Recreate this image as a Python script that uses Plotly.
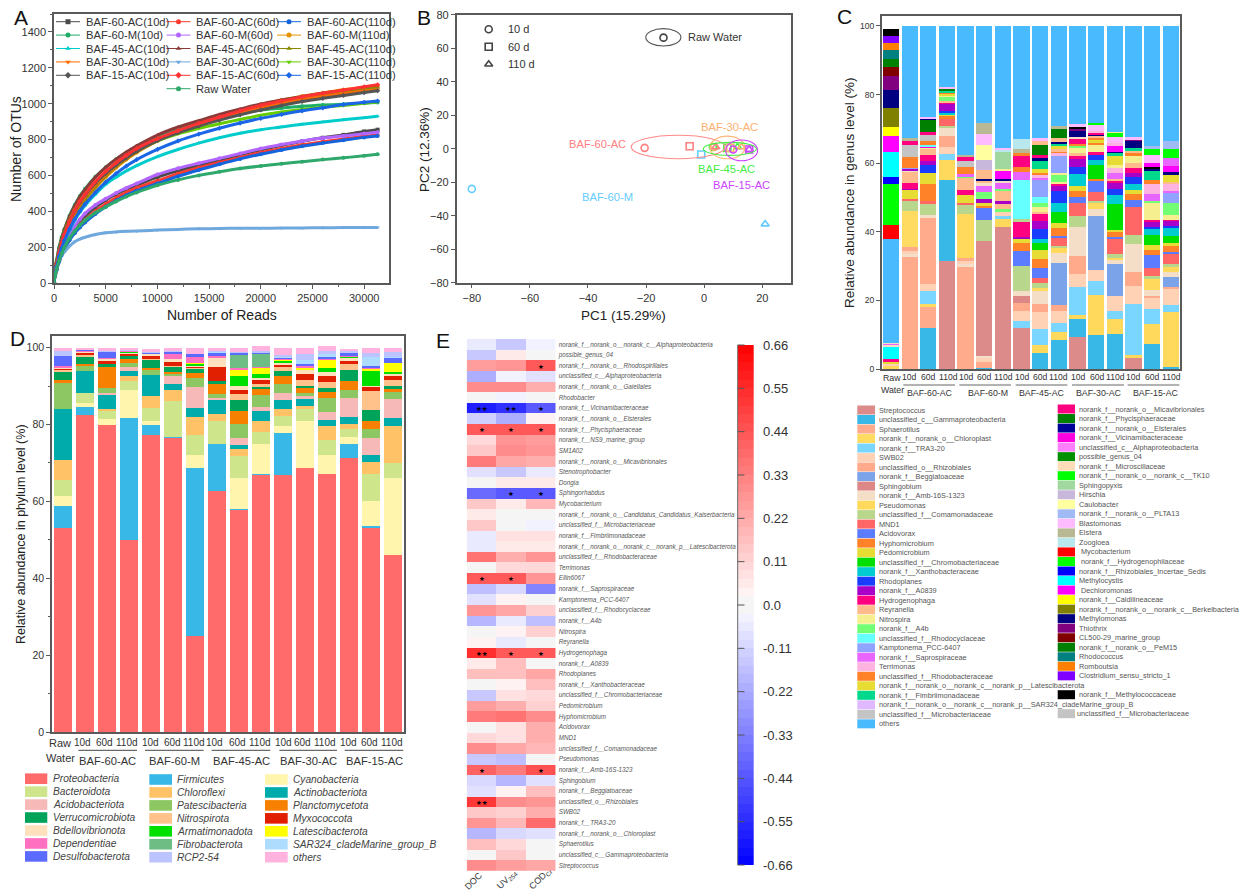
import plotly.graph_objects as go

W, H = 1241, 892
FONT = "Liberation Sans, Arial, sans-serif"
GREY = "#333333"
FRAME = "#5a5a5a"

# ---------- Panel A: rarefaction curves ----------
READS = [0,100,250,500,750,1000,1500,2000,2500,3000,4000,5000,6000,7000,8000,10000,12000,14000,16000,18000,20000,22000,24000,26000,28000,30000,31300]
OTU_60AC_10 = [0,42,80,130,172,208,262,305,342,372,422,462,495,522,545,590,625,655,685,715,742,768,790,810,826,845,855]
OTU_60M_10 = [0,70,125,200,255,300,375,435,485,525,592,645,690,728,762,818,860,893,920,945,965,975,985,992,997,1003,1006]
OTU_45AC_10 = [0,48,90,145,192,230,295,350,395,432,495,550,590,625,655,705,745,780,810,835,855,870,885,898,910,922,930]
OTU_30AC_10 = [0,55,105,170,222,265,335,392,440,480,548,606,655,697,735,795,842,880,915,947,975,1000,1022,1040,1056,1070,1078]
OTU_15AC_10 = [0,58,110,178,232,275,345,402,450,490,558,612,658,698,735,794,838,875,908,938,965,990,1012,1030,1046,1062,1072]
OTU_60AC_60 = [0,40,76,125,165,200,250,290,325,352,400,440,475,505,530,570,610,643,672,700,728,750,770,788,803,818,825]
OTU_60M_60 = [0,45,85,138,180,218,272,318,355,388,435,470,502,530,555,605,640,668,695,722,750,772,792,808,820,833,840]
OTU_45AC_60 = [0,65,120,195,250,295,370,430,480,520,590,645,690,730,765,825,870,905,940,970,998,1020,1040,1058,1072,1085,1092]
OTU_30AC_60 = [0,60,100,140,160,172,205,230,245,255,270,280,285,288,290,295,299,302,304,305,305,306,307,308,309,310,310]
OTU_15AC_60 = [0,55,105,170,225,270,345,405,455,495,565,622,670,712,750,805,850,890,925,960,990,1015,1038,1058,1076,1094,1105]
OTU_60AC_110 = [0,38,72,118,156,188,238,278,310,338,385,425,460,490,515,555,595,630,662,692,718,742,762,780,796,812,820]
OTU_60M_110 = [0,50,95,155,205,245,315,372,420,460,530,590,642,688,728,792,845,888,927,962,994,1020,1042,1060,1078,1090,1097]
OTU_45AC_110 = [0,52,98,160,210,250,320,378,428,468,538,598,650,694,732,792,845,885,922,955,985,1010,1032,1052,1068,1082,1090]
OTU_30AC_110 = [0,60,112,182,235,280,350,408,455,495,560,618,665,705,738,792,832,862,888,912,935,953,968,980,990,1002,1010]
OTU_15AC_110 = [0,48,90,148,195,235,300,355,400,440,505,562,610,652,688,745,792,830,863,892,918,940,960,977,995,1008,1015]
OTU_RAW = [0,40,78,125,165,198,250,290,322,350,392,424,455,482,505,545,575,600,620,638,652,665,676,688,698,710,718]

CURVES = [
    ("BAF-60-AC(10d)", OTU_60AC_10, "#4a4a4a", "square"),
    ("BAF-60-AC(60d)", OTU_60AC_60, "#ff3b30", "circle"),
    ("BAF-60-AC(110d)", OTU_60AC_110, "#1464dc", "circle"),
    ("BAF-60-M(10d)", OTU_60M_10, "#1fae68", "circle"),
    ("BAF-60-M(60d)", OTU_60M_60, "#b266ff", "circle"),
    ("BAF-60-M(110d)", OTU_60M_110, "#e69500", "circle"),
    ("BAF-45-AC(10d)", OTU_45AC_10, "#00cccc", "triangle-up"),
    ("BAF-45-AC(60d)", OTU_45AC_60, "#8b3a3a", "triangle-up"),
    ("BAF-45-AC(110d)", OTU_45AC_110, "#8a8a00", "triangle-up"),
    ("BAF-30-AC(10d)", OTU_30AC_10, "#ff6a00", "triangle-down"),
    ("BAF-30-AC(60d)", OTU_30AC_60, "#6fa8dc", "triangle-down"),
    ("BAF-30-AC(110d)", OTU_30AC_110, "#66cc00", "triangle-down"),
    ("BAF-15-AC(10d)", OTU_15AC_10, "#555555", "diamond"),
    ("BAF-15-AC(60d)", OTU_15AC_60, "#ff3333", "diamond"),
    ("BAF-15-AC(110d)", OTU_15AC_110, "#1a66e6", "diamond"),
    ("Raw Water", OTU_RAW, "#2ea86b", "circle"),
]

# ---------- Panel B: PCoA ----------
PC1_RAW, PC2_RAW = [-14], [66.3]
PC1_60AC, PC2_60AC = [-20.5,-5,4], [0.5,1.5,1]
PC1_60M, PC2_60M = [-80,-1,21], [-24,-3.5,-45]
PC1_45AC, PC2_45AC = [3,8,11.5], [1,0.5,1]
PC1_30AC, PC2_30AC = [3.5,9,12.8], [1,0.5,1]
PC1_15AC, PC2_15AC = [10,15.5,15.5], [-0.5,-0.5,-0.5]
PCOA_SYMBOLS = ["circle-open","square-open","triangle-up-open"]
ELLIPSES = [  # x0, x1, y0, y1 in PC units
    (-20.1,-8,61.3,71.7,"#555555"),(-25.1,7.2,-6,8,"#ff8a8a"),(2,14,-6,7.5,"#ffb878"),
    (-0.3,18,-4,3.8,"#44ee44"),(7.4,18.4,-7.2,5.2,"#cc44ff"),
]

# ---------- Panel C: genera ----------
GENERA = ["Streptococcus","unclassified_c__Gammaproteobacteria","Sphaerotilus","norank_f__norank_o__Chloroplast","norank_f__TRA3-20","SWB02","unclassified_o__Rhizobiales","norank_f__Beggiatoaceae","Sphingobium","norank_f__Amb-16S-1323","Pseudomonas","unclassified_f__Comamonadaceae","MND1","Acidovorax","Hyphomicrobium","Pedomicrobium","unclassified_f__Chromobacteriaceae","norank_f__Xanthobacteraceae","Rhodoplanes","norank_f__A0839","Hydrogenophaga","Reyranella","Nitrospira","norank_f__A4b","unclassified_f__Rhodocyclaceae","Kamptonema_PCC-6407","norank_f__Saprospiraceae","Terrimonas","unclassified_f__Rhodobacteraceae","norank_f__norank_o__norank_c__norank_p__Latescibacterota","norank_f__Fimbriimonadaceae","norank_f__norank_o__norank_c__norank_p__SAR324_cladeMarine_group_B","unclassified_f__Microbacteriaceae","others",
"norank_f__norank_o__Micavibrionales","norank_f__Phycisphaeraceae","norank_f__norank_o__Elsterales","norank_f__Vicinamibacteraceae","unclassified_c__Alphaproteobacteria","possible_genus_04","norank_f__Microscillaceae","norank_f__norank_o__norank_c__TK10","Sphingopyxis","Hirschia","Caulobacter","norank_f__norank_o__PLTA13","Blastomonas","Elstera","Zoogloea","Mycobacterium","norank_f__Hydrogenophilaceae","norank_f__Rhizobiales_Incertae_Sedis","Methylocystis","Dechloromonas","norank_f__Caldilineaceae","norank_f__norank_o__norank_c__Berkelbacteria","Methylomonas","Thiothrix","CL500-29_marine_group","norank_f__norank_o__PeM15","Rhodococcus","Romboutsia","Clostridium_sensu_stricto_1","norank_f__Methylococcaceae","unclassified_f__Microbacteriaceae"]
GENUS_COLORS = ["#DC8A8A","#38B8E6","#FFAB8C","#FFDB61","#7AD6FF","#FFD2B5","#FFAA8A","#7BA3EA","#DE8787","#F5DEC8","#FFD95C","#B8D78C","#FF6666","#5C7CFF","#FF8229","#E6DC33","#00DF00","#00CCD2","#1A3CFF","#A800C8","#FF0080","#FFBB8C","#F5EF8F","#73FF73","#66FFFF","#8FA3FF","#E866FF","#FFB3E0","#FF8229","#E6DC33","#00D98C","#E0B8FF","#C4C4C4","#4ABAFF",
"#FF0080","#008000","#000099","#FF00E0","#FF80FF","#009000","#FFDDB8","#00FF00","#A0D8A0","#C8B8DC","#FFFFA0","#A0BAF5","#FFBBFF","#B8B894","#B8E8EE","#FF0000","#00FF00","#0000FF","#00FFFF","#FF00FF","#FFFF00","#808000","#000080","#800080","#800000","#008000","#008080","#FF8000","#8000FF","#000000","#C4C4C4"]

C_RAW = [(10,1),(5,1.5),(15,2),(20,2.8),(52,6.5),(9,7),(26,7.3),(9,7.7),(33,38),(49,42),(50,54),(51,56),(52,63.3),(53,68),(54,70.5),(55,76),(56,81.3),(57,85.3),(58,88),(59,90.5),(60,93),(61,95),(62,97),(63,99)]
C_60AC_10 = [(2,32.7),(9,33.5),(5,34.3),(6,35.5),(3,46),(11,49),(12,49.5),(15,52.2),(19,52.6),(20,54.3),(21,57.5),(9,58),(19,58.3),(25,58.7),(14,61.7),(32,65.3),(20,66.5),(47,67.3),(33,100)]
C_60AC_60 = [(1,12),(2,18),(3,19),(4,22.7),(5,24.7),(2,44),(9,45),(11,48),(12,49),(14,54),(15,57),(18,59.5),(19,60.5),(20,62.5),(21,64.2),(22,64.6),(37,65),(24,65.3),(14,66.5),(32,68.3),(20,69),(35,72.7),(56,73),(46,73.5),(33,100)]
C_60AC_110 = [(0,31.5),(1,55),(10,61),(4,62.8),(5,64.7),(6,68),(9,70.3),(11,70.8),(12,73),(14,73.8),(15,74),(17,74.6),(18,75.3),(19,77.5),(20,77.8),(21,78),(23,79.3),(22,79.8),(15,80.3),(14,80.6),(30,81.2),(59,81.5),(46,82.2),(33,100)]
C_60M_10 = [(2,29.8),(9,30.7),(5,31.5),(6,32.3),(10,45.3),(11,48),(12,48.5),(15,50.8),(20,52.3),(21,55.7),(23,56.2),(26,56.7),(14,59),(32,60.7),(20,62),(47,62.3),(33,100)]
C_60M_60 = [(1,0.4),(2,2),(5,3.2),(9,3.8),(0,37.3),(11,43.3),(13,46.8),(14,47.5),(15,48.5),(19,49.5),(23,51.5),(26,53.3),(9,54.5),(21,55),(56,55.5),(21,58),(43,61),(44,65.2),(46,68.6),(47,71.7),(33,100)]
C_60M_110 = [(0,41.4),(10,44),(4,44.5),(5,46),(23,46.5),(21,48),(19,49),(21,52),(23,52.5),(26,54.3),(9,55),(56,55.5),(53,57.7),(22,58.3),(42,63.5),(48,64),(46,64.5),(33,100)]
C_45AC_10 = [(0,12),(4,14),(5,16.8),(6,19.3),(8,21.2),(9,22.8),(11,30),(13,34.5),(14,36.7),(15,38),(19,38.5),(20,42.9),(11,43.6),(24,55),(26,57.4),(14,59),(20,62),(14,63),(47,64),(48,67),(33,100)]
C_45AC_60 = [(1,4.8),(10,7),(4,11.8),(5,16.7),(6,19),(9,22.8),(3,23.5),(11,25),(12,26.5),(13,29.5),(14,32),(15,34.8),(16,36.8),(17,38),(18,40.7),(19,43.2),(20,45.3),(21,45.8),(22,47.2),(23,48.3),(24,50),(25,55),(26,55.8),(27,56.8),(14,57),(15,58.3),(30,60.5),(56,61.5),(20,62.3),(35,65.4),(21,66.5),(46,67.3),(33,100)]
C_45AC_110 = [(1,8.5),(10,10.7),(4,13.3),(5,17),(6,18.7),(7,31),(9,33.8),(10,35.2),(11,36),(12,38.3),(13,38.8),(14,41),(15,42.5),(16,45.7),(17,48.5),(18,51.8),(19,53.5),(20,54),(22,54.5),(23,56.7),(22,57),(25,62),(27,63),(14,63.3),(21,64),(15,65),(30,65.7),(56,66.2),(21,67.3),(35,70),(47,70.7),(33,100)]
C_30AC_10 = [(0,9.3),(1,14.5),(10,15.8),(4,24),(5,27.8),(6,32.8),(9,41.5),(11,44.5),(12,48.5),(13,50.2),(14,52),(15,53.3),(17,56.7),(18,59),(19,61.3),(20,62),(21,63),(22,64.3),(23,65),(14,65.7),(20,67.2),(9,67.5),(56,69.3),(57,70),(63,70.5),(46,71.5),(33,100)]
C_30AC_60 = [(1,10),(10,21.5),(4,25.7),(5,29),(7,44.7),(9,46.5),(10,48.5),(11,49),(12,51.7),(13,55),(14,55.5),(16,59.4),(17,61),(18,62.5),(20,63.2),(22,65.2),(14,66),(15,67),(14,67.5),(21,68),(56,68.5),(20,69),(27,69.5),(46,71.3),(41,71.7),(33,100)]
C_30AC_110 = [(1,10.2),(10,14.7),(4,17),(5,21.3),(7,30.6),(9,31.8),(10,32.5),(11,33.5),(12,38),(13,38.5),(14,40),(15,40.4),(16,48),(17,50.6),(18,52.5),(19,54.5),(20,55),(21,55.5),(26,57),(27,58.5),(22,59.5),(15,62),(30,63),(56,63.3),(53,65),(27,66),(46,67.5),(41,69),(22,69.2),(33,100)]
C_15AC_10 = [(0,3.2),(10,4),(4,19),(5,24.3),(6,28.3),(9,36.3),(11,39),(12,47.2),(13,49.2),(14,51),(15,52.2),(17,54),(18,56),(19,57),(20,58.6),(21,60),(22,62),(14,63),(21,63.5),(30,64.3),(56,66.6),(57,67),(46,67.5),(33,100)]
C_15AC_60 = [(1,7.4),(10,13),(4,17.5),(5,20.7),(6,21.3),(9,23),(10,26.3),(11,27.2),(12,29.5),(13,33.2),(14,34.7),(15,36.2),(16,39),(17,40.7),(18,41.5),(19,43.1),(20,43.3),(22,48.5),(23,49),(26,51),(27,54),(14,55),(30,58),(56,58.5),(63,58.8),(53,60),(46,62.5),(41,64.2),(45,65),(33,100)]
C_15AC_110 = [(1,0.5),(10,16.5),(4,18.6),(5,23.4),(6,23.8),(7,26.8),(9,28.2),(10,29.7),(11,30.5),(12,33.8),(13,34.2),(14,35.8),(15,36.8),(16,38.8),(17,41),(18,41.6),(19,43.2),(20,43.4),(22,45),(23,48.4),(25,51.3),(26,52),(27,54),(21,54.6),(15,56.8),(56,57.3),(53,59.3),(26,61.6),(41,64),(45,66.4),(33,100)]
C_SAMPLES = [C_RAW,C_60AC_10,C_60AC_60,C_60AC_110,C_60M_10,C_60M_60,C_60M_110,C_45AC_10,C_45AC_60,C_45AC_110,C_30AC_10,C_30AC_60,C_30AC_110,C_15AC_10,C_15AC_60,C_15AC_110]

# ---------- Panel D: phyla (stacking order) ----------
PHYLA = ["Proteobacteria","Firmicutes","Cyanobacteria","Bacteroidota","Chloroflexi","Actinobacteriota","Acidobacteriota","Patescibacteria","Planctomycetota","Verrucomicrobiota","Nitrospirota","Myxococcota","Bdellovibrionota","Armatimonadota","Latescibacterota","Dependentiae","Fibrobacterota","Desulfobacterota","SAR324_cladeMarine_group_B","RCP2-54","others"]
PHYLA_COLORS = ["#FF6B6B","#38B8E6","#FFF5AD","#CFE58C","#FFC266","#00ABAB","#F7B8B8","#8CC764","#F78000","#00A35A","#FFC28A","#E02000","#FFE0BD","#00E000","#FFFF00","#FF70C0","#6DBD85","#5C6BFF","#ADDCFF","#BCC4FF","#FFB3DE"]
D_RAW = [53,5.7,2.8,4.1,5.1,13.3,0,7,.5,2.2,.5,.3,.4,0,0,.2,0,2.8,0,1.2,.9]
D_60AC_10 = [82.4,2.2,1.1,2.4,0,5.9,0,1.1,.7,1.9,.3,.7,.3,0,0,.2,0,.2,0,.1,.4]
D_60AC_60 = [79.8,0,1.5,2.1,.6,3.7,.5,1.4,5.3,.8,0,.7,.8,0,0,.1,0,1.6,0,.3,.8]
D_60AC_110 = [50,31.8,7.2,2.2,1.4,1.3,1,1.2,1,.9,0,.4,.2,.4,0,.2,0,.1,0,.1,.5]
D_60M_10 = [77.2,2.6,1,3.6,2.9,5.5,0,1.3,.7,2,.2,.9,.5,0,0,.1,0,.2,0,.1,.7]
D_60M_60 = [76.5,.3,0,9.2,3,1.5,2.1,.7,.3,1.6,.1,.9,.8,0,0,1.4,0,.5,0,.2,.9]
D_60M_110 = [25,43.6,3.4,5.2,4.8,2.4,5.3,2.3,1.5,1.1,.1,.3,.2,.7,.2,1.5,0,.7,0,0,1.6]
D_45AC_10 = [62.6,12.4,0,6,1.8,3.8,.4,1,2.4,1,0,3.6,2.5,0,0,.3,0,.9,.2,.1,1]
D_45AC_60 = [57.8,.3,7.9,5.8,1.9,1,1.7,3.6,3.4,2.9,1.6,1.1,1,2.7,1.6,.4,3.5,.4,0,.2,1.2]
D_45AC_110 = [67,.2,7.8,3,2.8,2.6,1.2,3.1,1.4,.9,.5,1,.7,1,1.5,.2,3.5,.3,0,.4,1.2]
D_30AC_10 = [66.8,10.9,2,2.6,1.7,2.3,1.9,2.4,2,1.2,1.2,.6,.5,.6,.3,.2,0,.3,.3,.3,1.7]
D_30AC_60 = [68.6,0,12.2,3.2,.7,2,.8,.8,1.1,.6,1.5,1.5,1.2,.2,.4,.5,0,.3,1.2,1.5,1.5]
D_30AC_110 = [67.2,0,4.8,4,3.6,1.6,2,3.6,1.6,1.1,1.5,1.6,1,1,2.2,.4,0,.3,.8,.9,1.1]
D_15AC_10 = [71.2,3.8,1.7,2.1,1.2,2,5,2,2.2,3,1.5,.8,.8,.3,.1,.2,0,.8,0,.3,.7]
D_15AC_60 = [53,.6,6.4,7.2,3,1.8,4.6,2.2,2,2.9,5.1,1.1,.2,3.8,.7,.2,0,.4,2.4,.9,1.5]
D_15AC_110 = [46,0,20,4,9.7,2.1,4.9,1.8,.8,.7,1.5,1.3,.2,.6,2.4,.1,0,1.3,.2,1.2,1.2]
D_SAMPLES = [D_RAW,D_60AC_10,D_60AC_60,D_60AC_110,D_60M_10,D_60M_60,D_60M_110,D_45AC_10,D_45AC_60,D_45AC_110,D_30AC_10,D_30AC_60,D_30AC_110,D_15AC_10,D_15AC_60,D_15AC_110]
D_LEGEND_1 = ["Proteobacteria","Bacteroidota","Acidobacteriota","Verrucomicrobiota","Bdellovibrionota","Dependentiae","Desulfobacterota"]
D_LEGEND_2 = ["Firmicutes","Chloroflexi","Patescibacteria","Nitrospirota","Armatimonadota","Fibrobacterota","RCP2-54"]
D_LEGEND_3 = ["Cyanobacteria","Actinobacteriota","Planctomycetota","Myxococcota","Latescibacterota","SAR324_cladeMarine_group_B","others"]

DAYS = ["10d","60d","110d"]
GROUPS = ["BAF-60-AC","BAF-60-M","BAF-45-AC","BAF-30-AC","BAF-15-AC"]

# ---------- Panel E: correlation heat map ----------
HEAT_TAXA = ["norank_f__norank_o__norank_c__Alphaproteobacteria","possible_genus_04","norank_f__norank_o__Rhodospirillales","unclassified_c__Alphaproteobacteria","norank_f__norank_o__Gaiellales","Rhodobacter","norank_f__Vicinamibacteraceae","norank_f__norank_o__Elsterales","norank_f__Phycisphaeraceae","norank_f__NS9_marine_group","SM1A02","norank_f__norank_o__Micavibrionales","Stenotrophobacter","Dongia","Sphingorhabdus","Mycobacterium","norank_f__norank_o__Candidatus_Candidatus_Kaiserbacteria","unclassified_f__Microbacteriaceae","norank_f__Fimbriimonadaceae","norank_f__norank_o__norank_c__norank_p__Latescibacterota","unclassified_f__Rhodobacteraceae","Terrimonas","Ellin6067","norank_f__Saprospiraceae","Kamptonema_PCC-6407","unclassified_f__Rhodocyclaceae","norank_f__A4b","Nitrospira","Reyranella","Hydrogenophaga","norank_f__A0839","Rhodoplanes","norank_f__Xanthobacteraceae","unclassified_f__Chromobacteriaceae","Pedomicrobium","Hyphomicrobium","Acidovorax","MND1","unclassified_f__Comamonadaceae","Pseudomonas","norank_f__Amb-16S-1323","Sphingobium","norank_f__Beggiatoaceae","unclassified_o__Rhizobiales","SWB02","norank_f__TRA3-20","norank_f__norank_o__Chloroplast","Sphaerotilus","unclassified_c__Gammaproteobacteria","Streptococcus"]
HEAT_VARS = ["DOC","UV<sub>254</sub>","COD<sub>Cr</sub>"]
HEAT_DOC = [-.06,-.15,.25,-.20,.30,0,-.58,-.13,.43,.10,.15,.33,-.07,0,-.38,.15,.06,.14,-.05,-.06,.37,.01,.44,-.17,-.08,.27,-.18,0,.03,.53,.05,.17,.01,-.14,.25,.34,.01,.10,.30,-.14,.40,-.09,-.08,.52,.15,.27,-.18,.16,.02,.30]
HEAT_UV = [-.14,.05,.27,-.04,.30,-.04,-.55,-.20,.44,.28,.30,.22,-.14,.05,-.44,.06,0,.01,.07,.05,.21,.10,.42,-.10,.03,.24,-.05,.03,-.06,.42,.16,.17,.04,.08,.20,.37,.07,.07,.22,-.16,.33,-.19,.04,.30,.12,.19,-.09,.09,.14,.25]
HEAT_COD = [-.04,0,.42,-.08,.20,-.02,-.42,.03,.44,.26,.27,.20,-.06,.05,-.43,.18,0,-.04,.07,.05,.28,.10,.28,-.32,0,.12,-.16,.13,0,.43,0,.22,.17,.09,.13,.30,.20,.20,.18,.02,.45,-.07,.16,.28,.20,.38,-.07,.02,0,.22]
STAR_ROWS = ["norank_f__norank_o__Rhodospirillales","norank_f__Vicinamibacteraceae","norank_f__Vicinamibacteraceae","norank_f__Vicinamibacteraceae","norank_f__Phycisphaeraceae","norank_f__Phycisphaeraceae","norank_f__Phycisphaeraceae","Sphingorhabdus","Sphingorhabdus","Ellin6067","Ellin6067","Hydrogenophaga","Hydrogenophaga","Hydrogenophaga","norank_f__Amb-16S-1323","norank_f__Amb-16S-1323","unclassified_o__Rhizobiales"]
STAR_COLS = [2,0,1,2,0,1,2,1,2,0,1,0,1,2,0,2,0]
STAR_TEXT = ["★","★★","★★","★","★","★","★","★","★","★","★","★★","★","★","★","★","★★"]
CBAR_TICKS = [0.66,0.55,0.44,0.33,0.22,0.11,0.0,-0.11,-0.22,-0.33,-0.44,-0.55,-0.66]


def dx(l, r):
    return [l / W, r / W]


def dy(t, b):
    return [1 - b / H, 1 - t / H]


fig = go.Figure()
shapes, notes = [], []


def note(x, y, text, size=11, color=GREY, anchor="left", italic=False, family=FONT, angle=0):
    notes.append(dict(x=x, y=y, xref="x6", yref="y6", text=f"<i>{text}</i>" if italic else text,
                      showarrow=False, xanchor=anchor, yanchor="middle", textangle=angle,
                      font=dict(size=size, color=color, family=family)))


def rect(x0, x1, y0, y1, color):
    shapes.append(dict(type="rect", xref="x6", yref="y6", x0=x0, x1=x1, y0=y0, y1=y1,
                       fillcolor=color, line=dict(width=0), layer="above"))


def seg(x0, x1, y0, y1, color=FRAME, width=1):
    shapes.append(dict(type="line", xref="x6", yref="y6", x0=x0, x1=x1, y0=y0, y1=y1,
                       line=dict(color=color, width=width), layer="above"))


# Panel A traces
for name, vals, color, sym in CURVES:
    fig.add_trace(go.Scatter(x=READS, y=vals, name=name, mode="lines+markers", xaxis="x", yaxis="y",
                             line=dict(color=color, width=3, shape="spline"),
                             marker=dict(color=color, symbol=sym, size=4), showlegend=False))

# Panel A legend keys
for i, (name, vals, color, sym) in enumerate(CURVES):
    col, row = (1, 5) if name == "Raw Water" else (i % 3, i // 3)
    x0 = 56 + col * 110.5
    y0 = 21.7 + row * 13.4
    seg(x0, x0 + 24, y0, y0, color=color, width=1)
    fig.add_trace(go.Scatter(x=[x0 + 12], y=[y0], mode="markers", xaxis="x6", yaxis="y6", showlegend=False,
                             marker=dict(color=color, symbol=sym, size=5), hoverinfo="skip"))
    note(x0 + 27.5, y0, name, size=11.2)

# Panel B traces
PCOA = [("Raw Water", PC1_RAW, PC2_RAW, "#444444"), ("BAF-60-M", PC1_60M, PC2_60M, "#66ccff"),
        ("BAF-45-AC", PC1_45AC, PC2_45AC, "#44ee44"), ("BAF-30-AC", PC1_30AC, PC2_30AC, "#ffb070"),
        ("BAF-15-AC", PC1_15AC, PC2_15AC, "#cc44ff"), ("BAF-60-AC", PC1_60AC, PC2_60AC, "#ff8080")]
for name, xs, ys, color in PCOA:
    fig.add_trace(go.Scatter(x=xs, y=ys, name=name, mode="markers", xaxis="x2", yaxis="y2", showlegend=False,
                             marker=dict(symbol=PCOA_SYMBOLS[:len(xs)], size=7, color=color,
                                         line=dict(color=color, width=1.6))))
for x0, x1, y0, y1, color in ELLIPSES:
    shapes.append(dict(type="circle", xref="x2", yref="y2", x0=x0, x1=x1, y0=y0, y1=y1,
                       line=dict(color=color, width=1.1)))
for sym, yp, lab in zip(["circle-open", "square-open", "triangle-up-open"], [29.3, 46.7, 64.3], ["10 d", "60 d", "110 d"]):
    fig.add_trace(go.Scatter(x=[488.7], y=[yp], mode="markers", xaxis="x6", yaxis="y6", showlegend=False,
                             marker=dict(symbol=sym, size=7, color="#444444", line=dict(color="#444444", width=1.6)),
                             hoverinfo="skip"))
    note(506, yp, lab, size=11)
note(686, 36.7, "Raw Water", size=11)
note(566.7, 144.3, "BAF-60-AC", size=11.2, color="#ff8080")
note(699.3, 127, "BAF-30-AC", size=11.2, color="#ffb070")
note(695.7, 169.3, "BAF-45-AC", size=11.2, color="#44ee44")
note(710.7, 185, "BAF-15-AC", size=11.2, color="#cc44ff")
note(580, 196.7, "BAF-60-M", size=11.2, color="#66ccff")

# Panel C traces: k-th band of every sample forms one stacked layer
n_layers = max(len(s) for s in C_SAMPLES)
C_X = list(range(16))
for k in range(n_layers):
    heights, colors, labels = [], [], []
    for s in C_SAMPLES:
        if k < len(s):
            g, top = s[k]
            low = s[k - 1][1] if k else 0
            heights.append(round(top - low, 3))
            colors.append(GENUS_COLORS[g])
            labels.append(GENERA[g])
        else:
            heights.append(0)
            colors.append("#ffffff")
            labels.append("")
    fig.add_trace(go.Bar(x=C_X, y=heights, width=0.875, xaxis="x3", yaxis="y3",
                         marker=dict(color=colors, line=dict(width=0)), hovertext=labels, showlegend=False))

# Panel D traces
for i, name in enumerate(PHYLA):
    fig.add_trace(go.Bar(x=C_X, y=[s[i] for s in D_SAMPLES], width=0.8, name=name, xaxis="x4", yaxis="y4",
                         marker=dict(color=PHYLA_COLORS[i], line=dict(width=0)), showlegend=False))

# Panel E trace
STEPS = 60
scale = []
for i in range(STEPS):
    t = (i + 0.5) / STEPS * 2 - 1
    v = round(255 * (1 - abs(t)))
    c = "#f5f5f5" if abs(t) < 0.02 else (f"rgb({v},{v},255)" if t < 0 else f"rgb(255,{v},{v})")
    scale += [[i / STEPS, c], [(i + 1) / STEPS, c]]
CB_TOP, CB_BOT = 345, 865
fig.add_trace(go.Heatmap(x=HEAT_VARS, y=HEAT_TAXA, z=[list(r) for r in zip(HEAT_DOC, HEAT_UV, HEAT_COD)],
                         xaxis="x5", yaxis="y5", zmin=-0.66, zmax=0.66, colorscale=scale, showscale=False))
# colour key: one row per colour level of the scale
key_levels = [((i + 0.5) / STEPS * 2 - 1) * 0.66 for i in range(STEPS)]
fig.add_trace(go.Heatmap(x=[0], y=key_levels, z=[[v] for v in key_levels], xaxis="x7", yaxis="y7",
                         zmin=-0.66, zmax=0.66, colorscale=scale, showscale=False, hoverinfo="skip"))
seg(737.7, 737.7, CB_TOP, CB_BOT, color="#666666", width=1)
for t in CBAR_TICKS:
    yp = (CB_TOP + CB_BOT) / 2 - t / 0.66 * (CB_BOT - CB_TOP) / 2
    seg(737.7, 744.5, yp, yp, color="#555555", width=1)
for r, c, s in zip(STAR_ROWS, STAR_COLS, STAR_TEXT):
    notes.append(dict(x=c, y=r, xref="x5", yref="y5", text=s, showarrow=False, yshift=-1,
                      font=dict(size=6.5, color="black", family="DejaVu Sans")))
for label, x, y in zip(HEAT_VARS, [473.3, 506.7, 540.7], [880.5, 879, 878.5]):
    note(x, y, label, size=9, anchor="center", angle=-45)

# Axis titles
note(222, 315, "Number of Reads", size=14, color="#222222", anchor="center")
note(16, 149, "Number of OTUs", size=14, color="#222222", anchor="center", angle=-90)
note(623, 315, "PC1 (15.29%)", size=13.5, color="#222222", anchor="center")
note(424, 150, "PC2 (12.36%)", size=13.5, color="#222222", anchor="center", angle=-90)
note(849, 193, "Relative abundance in genus level (%)", size=13.5, color="#222222", anchor="center", angle=-90)
note(21, 534, "Relative abundance in phylum level (%)", size=12.5, color="#222222", anchor="center", angle=-90)

# Panel C sample labels
C_DAY_X = [909,928,948,966,984,1003,1022,1040,1058,1078,1097,1115,1133,1152,1171]
for i, x in enumerate(C_DAY_X):
    note(x, 377, DAYS[i % 3], size=8.6, anchor="center")
note(892, 378, "Raw", size=8.8, anchor="center")
note(892, 390, "Water", size=8.8, anchor="center")
for g, (a, b, c) in zip(GROUPS, [(190, 345, 270), (358, 513, 445), (527, 682, 607), (696, 852, 777), (863, 1018, 948)]):
    seg(840 + a / 3, 840 + b / 3, 385, 385, color="#666666", width=1)
    note(840 + c / 3, 392.5, g, size=8.8, anchor="center")

# Panel D sample labels
D_DAY_X = [82,104,127,150,172,194,214,237,260,283,302,325,348,369,392]
for i, x in enumerate(D_DAY_X):
    note(x, 742, DAYS[i % 3], size=10, anchor="center")
note(59.5, 743, "Raw", size=11, anchor="center")
note(60, 758, "Water", size=11, anchor="center")
for g, (a, b, c) in zip(GROUPS, [(235, 411, 322), (435, 611, 522), (635, 811, 723), (838, 1011, 925), (1034, 1210, 1122)]):
    seg(a / 3, b / 3, 750.3, 750.3, color="#444444", width=1)
    note(c / 3, 760.5, g, size=11.2, anchor="center")

# Panel D legend
for lst, sx0, sx1, tx, y0 in [(D_LEGEND_1, 25, 47.3, 50.7, 778.7), (D_LEGEND_2, 149.3, 172, 175, 779.5), (D_LEGEND_3, 265, 287.7, 290.7, 779.5)]:
    for r, name in enumerate(lst):
        y = y0 + r * 12.95
        rect(sx0, sx1, y - 5.3, y + 5.3, PHYLA_COLORS[PHYLA.index(name)])
        note(tx, y, name, size=10.2, italic=True, color="#444444")

# Panel C legend
LEG = 7.3
for i in range(34):
    y = 410 + i * 9.51
    rect(857.3, 875, y - 4.5, y + 4.5, GENUS_COLORS[i])
    note(877, y, GENERA[i], size=LEG, color="#555555")
for i in range(34, 63):
    y = 409 + (i - 34) * 9.53
    rect(1057.7, 1075, y - 4.5, y + 4.5, GENUS_COLORS[i])
    note(1079 if GENERA[i] in ("Mycobacterium", "norank_f__Hydrogenophilaceae", "Dechloromonas") else 1077, y, GENERA[i], size=LEG, color="#555555")
rect(1057.7, 1075, 690.2, 699.2, GENUS_COLORS[63])
note(1077, 694.7, GENERA[63], size=LEG, color="#555555")
rect(1057.7, 1075, 709.2, 718.2, GENUS_COLORS[64])
note(1075, 713.7, GENERA[64], size=LEG, color="#555555")

# Panel letters
for letter, x, y in [("A", 12, 17), ("B", 415, 17), ("C", 835, 16), ("D", 8, 338), ("E", 434, 340)]:
    note(x, y, letter, size=21, color="#111111")


def frame(**kw):
    base = dict(showline=True, mirror=True, linecolor=FRAME, linewidth=1.5, ticks="outside", ticklen=4,
                tickcolor=FRAME, tickfont=dict(size=11, color=GREY, family=FONT), showgrid=False, zeroline=False)
    base.update(kw)
    return base


fig.update_layout(
    width=W, height=H, margin=dict(l=0, r=0, t=0, b=0), autosize=False,
    paper_bgcolor="white", plot_bgcolor="rgba(0,0,0,0)", barmode="stack", showlegend=False,
    shapes=shapes, annotations=notes,
    xaxis=frame(domain=dx(54, 389), range=[0, 32400], tickvals=[0,5000,10000,15000,20000,25000,30000], tickformat="d",
                minor=dict(ticks="outside", ticklen=2, dtick=2500, tickcolor=FRAME), anchor="y"),
    yaxis=frame(domain=dy(14, 283), range=[0, 1500], tickvals=[0,200,400,600,800,1000,1200,1400],
                minor=dict(ticks="outside", ticklen=2, dtick=100, tickcolor=FRAME), anchor="x"),
    xaxis2=frame(domain=dx(456.7, 791), range=[-85.2, 29.9], tickvals=[-80,-60,-40,-20,0,20], anchor="y2"),
    yaxis2=frame(domain=dy(14.7, 282.7), range=[-80, 80], tickvals=[-80,-60,-40,-20,0,20,40,60,80], anchor="x2"),
    xaxis3=frame(domain=dx(881.7, 1180), range=[-0.5, 15.5], showticklabels=False, ticks="", anchor="y3"),
    yaxis3=frame(domain=dy(16, 369), range=[0, 102.9], tickvals=[0,20,40,60,80,100],
                 tickfont=dict(size=8.6, color=GREY, family=FONT), anchor="x3"),
    xaxis4=frame(domain=dx(52, 404), range=[-0.5, 15.5], showticklabels=False, ticks="", anchor="y4"),
    yaxis4=frame(domain=dy(336, 732.3), range=[0, 103], tickvals=[0,20,40,60,80,100],
                 minor=dict(ticks="outside", ticklen=2, dtick=10, tickcolor=FRAME),
                 tickfont=dict(size=10.5, color=GREY, family=FONT), anchor="x4"),
    xaxis5=dict(domain=dx(466.7, 555.7), anchor="y5", showline=False, showgrid=False, zeroline=False, ticks="",
                showticklabels=False),
    yaxis5=dict(domain=dy(339, 870.7), anchor="x5", side="right", autorange="reversed", showline=False,
                showgrid=False, zeroline=False, ticks="", tickmode="array", tickvals=HEAT_TAXA,
                ticktext=[f"<i>{t}</i>" for t in HEAT_TAXA], ticklabelstandoff=2,
                tickfont=dict(size=6.3, color="#555555", family=FONT)),
    xaxis6=dict(domain=[0, 1], range=[0, W], visible=False, anchor="y6", fixedrange=True),
    yaxis6=dict(domain=[0, 1], range=[H, 0], visible=False, anchor="x6", fixedrange=True),
    xaxis7=dict(domain=dx(737.7, 754), visible=False, anchor="y7", fixedrange=True),
    yaxis7=dict(domain=dy(CB_TOP, CB_BOT), range=[-0.66, 0.66], anchor="x7", side="right", showline=False,
                showgrid=False, zeroline=False, ticks="", tickmode="array", tickvals=CBAR_TICKS,
                ticktext=[f"{t:.2f}" if t else "0.0" for t in CBAR_TICKS], ticklabelstandoff=8,
                tickfont=dict(size=13, color=GREY, family=FONT), fixedrange=True),
)
fig.update_xaxes(automargin=False)
fig.update_yaxes(automargin=False)

fig.write_html("out.html", config={"displayModeBar": False}, post_script="document.body.style.margin='0';")
